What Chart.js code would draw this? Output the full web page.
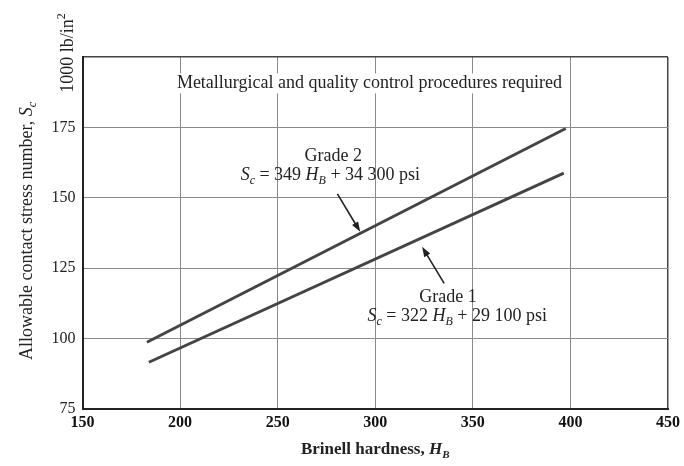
<!DOCTYPE html>
<html>
<head>
<meta charset="utf-8">
<script src="https://cdn.jsdelivr.net/npm/chart.js@4/dist/chart.umd.min.js"></script>
<style>
  html, body { margin: 0; padding: 0; background: #fff; }
  #wrap { width: 684px; height: 466px; position: relative; }
</style>
</head>
<body>
<div id="wrap"><canvas id="c" width="684" height="466"></canvas></div>
<script>
// ---- Data ----
const grade2Hardness = [183, 397.6];
const grade2Stress   = [98.7, 174.6];
const grade1Hardness = [184, 396.6];
const grade1Stress   = [91.6, 158.8];
const xTicks = [150, 200, 250, 300, 350, 400, 450];
const yTicks = [75, 100, 125, 150, 175];
const noteText = "Metallurgical and quality control procedures required";
const grade2Label = "Grade 2";
const grade1Label = "Grade 1";
const grade2Eq = [["S","i"],["c","isub"],[" = 349 ","n"],["H","i"],["B","isub"],[" + 34 300 psi","n"]];
const grade1Eq = [["S","i"],["c","isub"],[" = 322 ","n"],["H","i"],["B","isub"],[" + 29 100 psi","n"]];
const xTitle = [["Brinell hardness, ","n"],["H","i"],["B","isub"]];
const yTitle = [["Allowable contact stress number, ","n"],["S","i"],["c","isub"]];
const yUnit  = [["1000 lb/in","n"],["2","sup"]];
// annotation anchors in data units [hardness, stress]
const grade2TextAt = [278.5, 164.8];
const grade2EqAt   = [277, 158.0];
const grade2Arrow  = [[280.6, 151.4], [292.3, 137.9]];
const grade1TextAt = [337.3, 114.6];
const grade1EqAt   = [342, 108.0];
const grade1Arrow  = [[335.3, 119.6], [324, 132.6]];
const noteAt       = [297, 190.6];

const FONT = '"Liberation Serif", "DejaVu Serif", serif';
const INK = '#222';

function segFont(kind, size, weight) {
  const w = weight || 'normal';
  if (kind === 'i') return `italic ${w} ${size}px ${FONT}`;
  if (kind === 'isub') return `italic ${w} ${Math.round(size*0.65)}px ${FONT}`;
  if (kind === 'sup') return `${w} ${Math.round(size*0.65)}px ${FONT}`;
  return `${w} ${size}px ${FONT}`;
}
function richWidth(ctx, segs, size, weight) {
  let w = 0;
  for (const [t, k] of segs) { ctx.font = segFont(k, size, weight); w += ctx.measureText(t).width; }
  return w;
}
function drawRich(ctx, segs, cx, cy, size, weight, rot) {
  ctx.save();
  ctx.translate(cx, cy);
  if (rot) ctx.rotate(rot);
  ctx.textBaseline = 'middle';
  ctx.textAlign = 'left';
  ctx.fillStyle = INK;
  let x = -richWidth(ctx, segs, size, weight) / 2;
  for (const [t, k] of segs) {
    ctx.font = segFont(k, size, weight);
    let dy = 0;
    if (k === 'isub') dy = size * 0.3;
    if (k === 'sup') dy = -size * 0.35;
    ctx.fillText(t, x, dy);
    x += ctx.measureText(t).width;
  }
  ctx.restore();
}
function arrow(ctx, x1, y1, x2, y2) {
  ctx.save();
  ctx.strokeStyle = INK; ctx.fillStyle = INK; ctx.lineWidth = 1.6;
  const a = Math.atan2(y2 - y1, x2 - x1);
  const L = 10, W = 3.5;
  ctx.beginPath(); ctx.moveTo(x1, y1); ctx.lineTo(x2 - Math.cos(a)*L*0.8, y2 - Math.sin(a)*L*0.8); ctx.stroke();
  ctx.beginPath();
  ctx.moveTo(x2, y2);
  ctx.lineTo(x2 - Math.cos(a)*L - Math.sin(a)*W, y2 - Math.sin(a)*L + Math.cos(a)*W);
  ctx.lineTo(x2 - Math.cos(a)*L + Math.sin(a)*W, y2 - Math.sin(a)*L - Math.cos(a)*W);
  ctx.closePath(); ctx.fill();
  ctx.restore();
}

const annotations = {
  id: 'annotations',
  afterDraw(chart) {
    const ctx = chart.ctx;
    const xs = chart.scales.x, ys = chart.scales.y;
    const P = (p) => [xs.getPixelForValue(p[0]), ys.getPixelForValue(p[1])];
    // note
    let p = P(noteAt);
    ctx.save();
    ctx.fillStyle = '#fff';
    ctx.font = `normal 18px ${FONT}`;
    const nw = ctx.measureText(noteText).width;
    ctx.fillRect(p[0] - nw/2 - 2, p[1] - 10, nw + 4, 20);
    ctx.restore();
    drawRich(ctx, [[noteText, 'n']], p[0], p[1], 18);
    // grade 2
    p = P(grade2TextAt); drawRich(ctx, [[grade2Label, 'n']], p[0], p[1], 18);
    p = P(grade2EqAt);   drawRich(ctx, grade2Eq, p[0], p[1], 18);
    let a = P(grade2Arrow[0]), b = P(grade2Arrow[1]); arrow(ctx, a[0], a[1], b[0], b[1]);
    // grade 1
    p = P(grade1TextAt); drawRich(ctx, [[grade1Label, 'n']], p[0], p[1], 18);
    p = P(grade1EqAt);   drawRich(ctx, grade1Eq, p[0], p[1], 18);
    a = P(grade1Arrow[0]); b = P(grade1Arrow[1]); arrow(ctx, a[0], a[1], b[0], b[1]);
    // axis titles
    const ca = chart.chartArea;
    drawRich(ctx, xTitle, (ca.left + ca.right) / 2, 450, 17, 'bold');
    drawRich(ctx, yTitle, 27, 231, 18, 'normal', -Math.PI/2);
    drawRich(ctx, yUnit, 68, 53, 18, 'normal', -Math.PI/2);
  }
};

new Chart(document.getElementById('c'), {
  type: 'scatter',
  data: {
    datasets: [
      { label: grade2Label, data: grade2Hardness.map((h, i) => ({x: h, y: grade2Stress[i]})),
        showLine: true, borderColor: '#444', borderWidth: 3, pointRadius: 0, fill: false },
      { label: grade1Label, data: grade1Hardness.map((h, i) => ({x: h, y: grade1Stress[i]})),
        showLine: true, borderColor: '#444', borderWidth: 3, pointRadius: 0, fill: false }
    ]
  },
  options: {
    responsive: false,
    animation: false,
    devicePixelRatio: 1,
    layout: { padding: { top: 57, right: 14.5, left: 0, bottom: 0 } },
    plugins: { legend: { display: false }, tooltip: { enabled: false } },
    scales: {
      x: {
        type: 'linear', min: 150, max: 450,
        afterFit: (s) => { s.height = 57; },
        afterBuildTicks: (s) => { s.ticks = xTicks.map(v => ({ value: v })); },
        ticks: { padding: 4, color: '#111', font: { family: FONT, size: 16, weight: 'bold' }, maxRotation: 0 },
        grid: { drawTicks: false, color: (c) => (c.tick && c.tick.value === 450) ? '#444' : '#8a8a8a',
                lineWidth: (c) => (c.tick && c.tick.value === 450) ? 1.5 : 1 },
        border: { color: '#222', width: 2 }
      },
      y: {
        type: 'linear', min: 75, max: 200,
        afterFit: (s) => { s.width = 82.5; },
        afterBuildTicks: (s) => { s.ticks = yTicks.concat([200]).map(v => ({ value: v })); },
        ticks: { padding: 7, color: '#222', font: { family: FONT, size: 16 },
                 callback: (v) => yTicks.includes(v) ? String(v) : '' },
        grid: { drawTicks: false, color: (c) => (c.tick && c.tick.value === 200) ? '#444' : '#8a8a8a',
                lineWidth: (c) => (c.tick && c.tick.value === 200) ? 1.5 : 1 },
        border: { color: '#222', width: 2 }
      }
    }
  },
  plugins: [annotations]
});
</script>
</body>
</html>
